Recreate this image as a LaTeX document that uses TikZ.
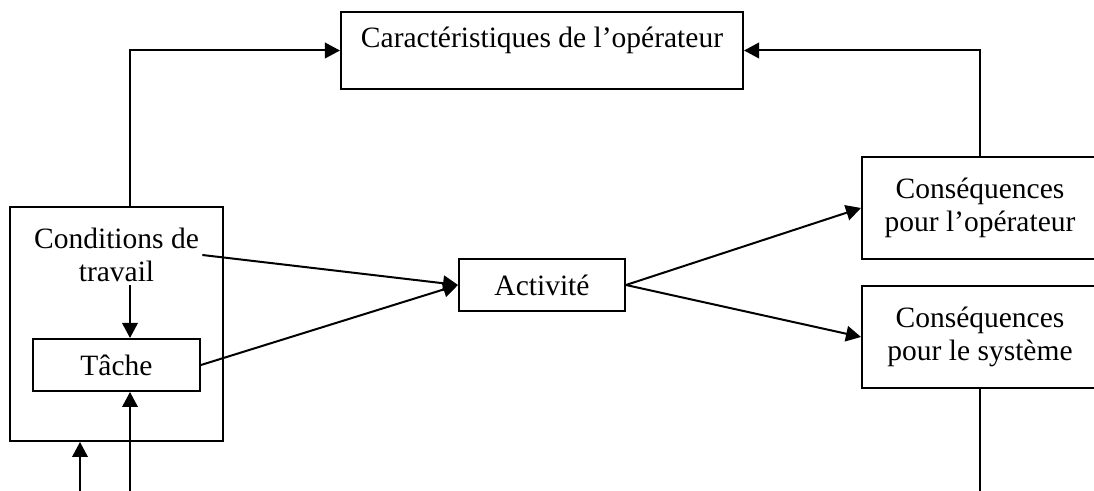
\documentclass[tikz,border=0pt]{standalone}
\usepackage{fontspec}
\setmainfont{Liberation Serif}
\usetikzlibrary{arrows.meta}
\begin{document}
\begin{tikzpicture}[x=0.4pt,y=-0.4pt,line width=0.8pt,
    boite/.style={draw,rectangle,inner sep=0pt,align=center},
    fleche/.style={-{Triangle[length=6pt,width=6.2pt]}},
    every node/.style={font=\fontsize{11.8}{13.2}\selectfont}]
  \useasboundingbox (0,0) rectangle (1094,491);
  % boites
  \node[boite,minimum width=85.2pt,minimum height=93.6pt] (cadre) at (116.5,324) {};
  \node[align=center,inner sep=1pt] (cond) at (116.5,255) {Conditions de\\travail};
  \node[boite,minimum width=66.8pt,minimum height=20.8pt] (tache) at (116.5,365) {Tâche};
  \node[boite,minimum width=66.4pt,minimum height=20.8pt] (act) at (542,285) {Activité};
  \node[boite,minimum width=160.8pt,minimum height=30.8pt,text height=9pt,text depth=11.5pt] (carac) at (542,50.5) {Caractéristiques de l’opérateur};
  \node[boite,minimum width=94.4pt,minimum height=40.8pt] (csqop) at (980,208) {Conséquences\\pour l’opérateur};
  \node[boite,minimum width=94.4pt,minimum height=40.8pt] (csqsys) at (980,337) {Conséquences\\pour le système};
  % bouts libres
  \coordinate (in1) at (80,491);
  \coordinate (in2) at (130,491);
  \coordinate (out) at (980,491);
  % fleches
  \draw[fleche] (cadre.north -| in2) |- (carac.west);
  \draw[fleche] (csqop.north) |- (carac.east);
  \draw[fleche] (cond.south -| in2) -- (tache.north -| in2);
  \draw[fleche] (cond.east) -- (act.west);
  \draw[fleche] (tache.east) -- (act.west);
  \draw[fleche] (act.east) -- (csqop.west);
  \draw[fleche] (act.east) -- (csqsys.west);
  \draw[fleche] (in1) -- (cadre.south -| in1);
  \draw[fleche] (in2) -- (tache.south -| in2);
  \draw (csqsys.south) -- (out);
\end{tikzpicture}
\end{document}
